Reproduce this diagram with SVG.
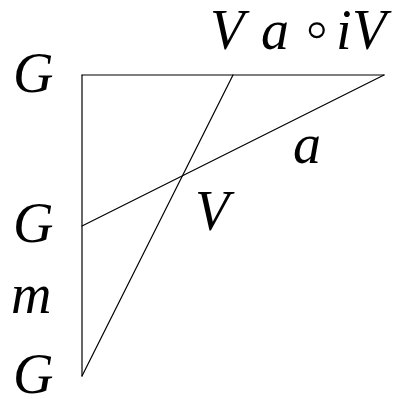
<svg xmlns="http://www.w3.org/2000/svg" width="406" height="399" viewBox="0 0 406 399">
<style>
.l{stroke:#000;stroke-width:1.2;fill:none;stroke-linecap:round}
.t{font-family:"Liberation Serif",serif;font-style:italic;font-size:56px;fill:#000}
.o{font-family:"DejaVu Sans",sans-serif;font-size:60px;font-weight:200;font-style:normal;fill:#000}
</style>
<rect width="406" height="399" fill="#fff"/>
<g id="connectors">
<line class="l" x1="82" y1="75" x2="384" y2="75"/>
<line class="l" x1="82" y1="75" x2="82" y2="376"/>
<line class="l" x1="82" y1="226" x2="384" y2="75"/>
<line class="l" x1="82" y1="376" x2="233" y2="75"/>
</g>
<g id="G1"><text class="t" x="13" y="92">G</text></g>
<g id="G2"><text class="t" x="13" y="242">G</text></g>
<g id="m"><text class="t" x="11" y="313">m</text></g>
<g id="G3"><text class="t" x="13" y="393">G</text></g>
<g id="top-label"><text class="t" y="49"><tspan x="210">V</tspan><tspan x="261">a</tspan><tspan class="o" x="298">∘</tspan><tspan x="336">i</tspan><tspan x="352">V</tspan></text></g>
<g id="a-label"><text class="t" x="293" y="163">a</text></g>
<g id="V-label"><text class="t" x="195" y="230">V</text></g>
</svg>
